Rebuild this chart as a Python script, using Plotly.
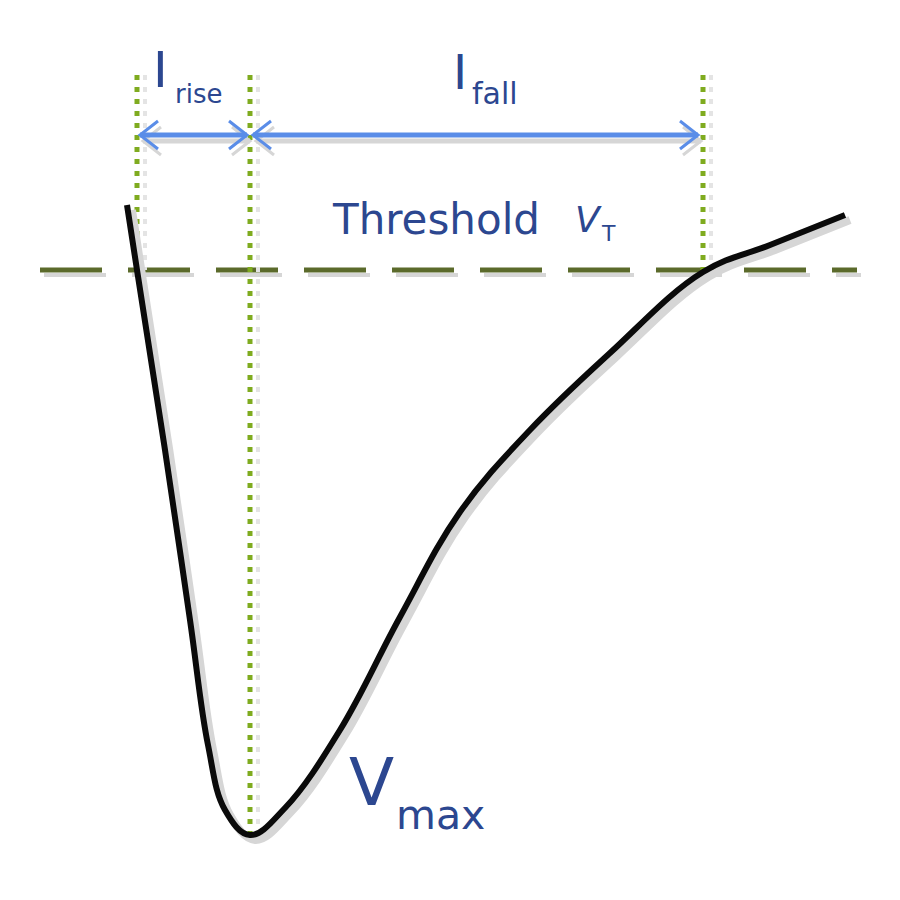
import plotly.graph_objs as go

# Pulse shape (x in time units, y in voltage units, screen-like scale)
pulse_x = [127, 137, 165, 190, 208, 225, 250, 285, 340, 400, 460, 530, 610, 703, 770, 845]
pulse_y = [205, 270, 450, 620, 745, 810, 835, 808, 730, 617, 512, 430, 353, 272, 245, 215]

# Threshold level
threshold_v = 270
threshold_span = [40, 857]

# Time markers (start of pulse, peak, end of pulse)
marker_t = [137, 250, 703]
marker_top = [75, 75, 75]
marker_bottom = [270, 835, 272]

# Interval arrows (rise, fall)
arrow_level = 135
arrow_from = [140, 253]
arrow_to = [247, 698]

#################################### COLORES #############################################
negro = '#0a0a0a'
sombra = '#d6d6d6'
oliva = '#5b6a2b'
verde = '#7fab1f'
azul = '#5a8de8'
texto = '#2c4790'

fig = go.Figure()


def linea(x, y, color, width, dash='solid', dx=0, dy=0, shape='linear'):
    fig.add_trace(go.Scatter(
        x=[v + dx for v in x],
        y=[v + dy for v in y],
        mode='lines',
        line=dict(color=color, width=width, dash=dash, shape=shape, smoothing=1.1),
        hoverinfo='skip',
        showlegend=False,
    ))


# Threshold dashed line (shadow first)
linea(threshold_span, [threshold_v, threshold_v], sombra, 4, '62px,26px', dx=4, dy=5)
linea(threshold_span, [threshold_v, threshold_v], oliva, 5, '62px,26px')

# Dotted time markers
for t, y0, y1 in zip(marker_t, marker_top, marker_bottom):
    linea([t, t], [y0, y1], '#e4e4e4', 4, '5px,7px', dx=8)
    linea([t, t], [y0, y1], verde, 5, '5px,7px')

# Arrows
head_len, head_half = 18, 14
for a, b in zip(arrow_from, arrow_to):
    for dx, dy, col in [(3, 6, sombra), (0, 0, azul)]:
        linea([a, b], [arrow_level, arrow_level], col, 5, dx=dx, dy=dy)
        linea([a + head_len, a, a + head_len],
              [arrow_level - head_half, arrow_level, arrow_level + head_half], col, 3, dx=dx, dy=dy)
        linea([b - head_len, b, b - head_len],
              [arrow_level - head_half, arrow_level, arrow_level + head_half], col, 3, dx=dx, dy=dy)

# Pulse curve with drop shadow
linea(pulse_x, pulse_y, sombra, 8, dx=5, dy=5, shape='spline')
linea(pulse_x, pulse_y, negro, 6, shape='spline')

# Labels
etiquetas = [
    ('I', 151, 70, 50),
    ('rise', 173, 94, 26),
    ('I', 451, 72, 48),
    ('fall', 470, 93, 30),
    ('Threshold', 330, 219, 42),
    ('<i>V</i>', 573, 219, 36),
    ('T', 599, 233, 22),
    ('V', 347, 782, 66),
    ('max', 394, 815, 41),
]
for txt, x, y, size in etiquetas:
    fig.add_annotation(
        x=x, y=y, xref='x', yref='y', text=txt, showarrow=False,
        xanchor='left', yanchor='middle',
        font=dict(family='DejaVu Sans', size=size, color=texto),
    )

fig.update_xaxes(visible=False, range=[0, 900], fixedrange=True)
fig.update_yaxes(visible=False, range=[900, 0], fixedrange=True)
fig.update_layout(
    width=900, height=900,
    margin=dict(l=0, r=0, t=0, b=0, pad=0),
    plot_bgcolor='#fff',
    paper_bgcolor='#fff',
    showlegend=False,
)

fig.write_html('out.html', config={'displayModeBar': False},
               post_script="document.body.style.margin='0px';")
